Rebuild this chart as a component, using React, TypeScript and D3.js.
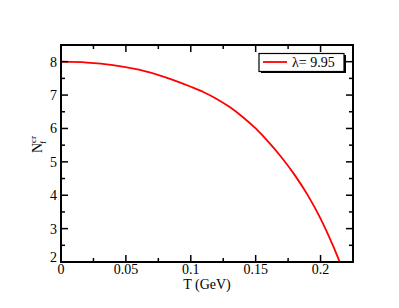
import React from 'react';
import * as d3 from 'd3';

// critical N_f vs temperature
const temps = [0, 0.02, 0.04, 0.06, 0.08, 0.1, 0.11, 0.12, 0.13, 0.14, 0.15, 0.16, 0.17, 0.18, 0.19, 0.2, 0.21, 0.216];
const nfCrit = [8.0, 7.975, 7.9, 7.76, 7.54, 7.25, 7.085, 6.885, 6.64, 6.345, 6.0, 5.59, 5.13, 4.61, 4.01, 3.3, 2.45, 1.88];
const xTicks = [0, 0.05, 0.1, 0.15, 0.2];
const xTickLabels = ['0', '0.05', '0.1', '0.15', '0.2'];
const yTicks = [2, 3, 4, 5, 6, 7, 8];
const legendLabel = 'λ= 9.95';

const App = () => {
  const w = 399;
  const h = 308;
  const margin = { top: 45, right: 46, bottom: 46, left: 61 };
  const x0 = margin.left;
  const x1 = w - margin.right;
  const y0 = margin.top;
  const y1 = h - margin.bottom;

  const xScale = d3.scaleLinear().domain([0, 0.225]).range([x0, x1]);
  const yScale = d3.scaleLinear().domain([2, 8.5]).range([y1, y0]);

  const pts = temps.map((t, i) => [t, nfCrit[i]] as [number, number]);
  const line = d3.line<[number, number]>()
    .x(d => xScale(d[0]))
    .y(d => yScale(d[1]))
    .curve(d3.curveMonotoneX);

  const xMinor = d3.range(0.025, 0.225, 0.05);
  const yMinor = d3.range(2.5, 8.5, 1);
  const font = "'Liberation Serif', 'Times New Roman', serif";

  return (
    <svg width={w} height={h} style={{ position: 'absolute', left: 0, top: 0 }}>
      <rect width={w} height={h} fill="white" />
      <defs>
        <clipPath id="plot">
          <rect x={x0} y={y0} width={x1 - x0} height={y1 - y0} />
        </clipPath>
      </defs>
      <path d={line(pts) ?? ''} fill="none" stroke="#ff0000" strokeWidth={1.8} clipPath="url(#plot)" />

      {/* ticks on all four sides, pointing in */}
      <g stroke="black" strokeWidth={1.5}>
        {xTicks.map(t => (
          <g key={'xt' + t}>
            <line x1={xScale(t)} x2={xScale(t)} y1={y1} y2={y1 - 7} />
            <line x1={xScale(t)} x2={xScale(t)} y1={y0} y2={y0 + 7} />
          </g>
        ))}
        {xMinor.map(t => (
          <g key={'xm' + t}>
            <line x1={xScale(t)} x2={xScale(t)} y1={y1} y2={y1 - 4} />
            <line x1={xScale(t)} x2={xScale(t)} y1={y0} y2={y0 + 4} />
          </g>
        ))}
        {yTicks.map(t => (
          <g key={'yt' + t}>
            <line x1={x0} x2={x0 + 7} y1={yScale(t)} y2={yScale(t)} />
            <line x1={x1} x2={x1 - 7} y1={yScale(t)} y2={yScale(t)} />
          </g>
        ))}
        {yMinor.map(t => (
          <g key={'ym' + t}>
            <line x1={x0} x2={x0 + 4} y1={yScale(t)} y2={yScale(t)} />
            <line x1={x1} x2={x1 - 4} y1={yScale(t)} y2={yScale(t)} />
          </g>
        ))}
      </g>
      <rect x={x0} y={y0} width={x1 - x0} height={y1 - y0} fill="none" stroke="black" strokeWidth={2} />

      <g style={{ fontFamily: font, fontSize: '14px' }} fill="black">
        {xTicks.map((t, i) => (
          <text key={'xl' + t} x={xScale(t)} y={y1 + 12} textAnchor="middle">{xTickLabels[i]}</text>
        ))}
        {yTicks.map(t => (
          <text key={'yl' + t} x={x0 - 4} y={yScale(t) + (t === 2 ? 0 : 5)} textAnchor="end">{t}</text>
        ))}
        <text x={(x0 + x1) / 2} y={y1 + 27} textAnchor="middle">T (GeV)</text>
        <text transform={`translate(42,153) rotate(-90)`}>
          N<tspan style={{ fontSize: '9px' }} dy={-6}>cr</tspan>
          <tspan style={{ fontSize: '9px' }} dy={10} dx={-8}>f</tspan>
        </text>
      </g>

      {/* legend */}
      <rect x={261} y={55} width={85} height={18} fill="black" />
      <rect x={259} y={53.5} width={85} height={18} fill="white" stroke="black" strokeWidth={1.2} />
      <line x1={263} x2={287} y1={62} y2={62} stroke="#ff0000" strokeWidth={1.8} />
      <text x={292} y={67} style={{ fontFamily: font, fontSize: '14px' }}>{legendLabel}</text>
    </svg>
  );
};

export default App;
